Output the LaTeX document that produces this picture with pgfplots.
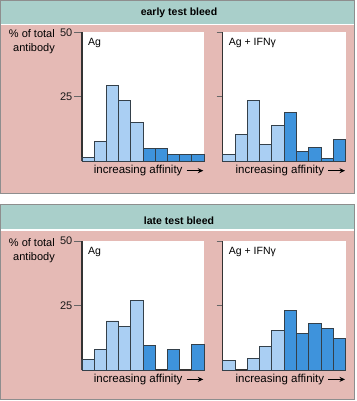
\documentclass[border=0pt]{standalone}
\usepackage{pgfplots}
\pgfplotsset{compat=1.18}
\usepackage{fontspec}
\setmainfont{Liberation Sans}
\usetikzlibrary{arrows.meta}
\definecolor{pinkbg}{HTML}{E5BAB5}
\definecolor{tealbg}{HTML}{A9CFCA}
\definecolor{lightbar}{HTML}{AACFF3}
\definecolor{darkbar}{HTML}{3E93DC}
\definecolor{edge}{HTML}{34404A}
\definecolor{framec}{HTML}{8E8E8E}

\pgfplotsset{
  panel/.style={
    scale only axis, width=122pt, height=129pt, anchor=south west,
    xmin=0, xmax=10, ymin=0, ymax=50, enlargelimits=false,
    axis x line*=bottom, axis y line*=left,
    axis line style={draw=black!80, line width=1.1pt},
    xtick=\empty, ytick={25,50},
    tick align=outside, major tick length=8pt,
    ytick style={draw=black!60, line width=0.7pt},
    axis background/.style={fill=white},
    clip=false,
    /pgf/number format/assume math mode=true,
    yticklabel style={font=\fontsize{11}{13}\selectfont, text=black!90, inner sep=1.5pt},
  },
  lb/.style={ybar, bar width=1, bar shift=0pt, fill=lightbar, draw=edge, line width=0.9pt},
  db/.style={ybar, bar width=1, bar shift=0pt, fill=darkbar, draw=edge, line width=0.9pt},
}
\newcommand{\xlab}{%
  \node[inner sep=0pt, anchor=base east, font=\fontsize{11.5}{13}\selectfont, xshift=-21.3pt, yshift=-12.7pt] at (rel axis cs:1,0) {increasing affinity};
  \draw[line width=0.9pt, -{Stealth[length=5.5pt,width=5pt]}] ([xshift=-17.3pt,yshift=-9.4pt]rel axis cs:1,0) -- ([xshift=-0.7pt,yshift=-9.4pt]rel axis cs:1,0);
}
\newcommand{\ylab}{%
  \node[inner sep=0pt, anchor=base east, font=\fontsize{11}{13}\selectfont, xshift=-27pt, yshift=-5.2pt] at (rel axis cs:0,1) {\% of total};
  \node[inner sep=0pt, anchor=base east, font=\fontsize{11}{13}\selectfont, xshift=-27pt, yshift=-19pt] at (rel axis cs:0,1) {antibody};
}
\newcommand{\plab}[1]{%
  \node[inner sep=0pt, anchor=base west, font=\fontsize{10.5}{12}\selectfont, xshift=6pt, yshift=-13.7pt] at (rel axis cs:0,1) {#1};
}

\begin{document}
\begin{tikzpicture}
\path[use as bounding box] (0,0) rectangle (356pt,401pt);
% top panel
\fill[pinkbg] (0.5pt,375.5pt) rectangle (354.5pt,207.5pt);
\fill[tealbg] (0.5pt,400.5pt) rectangle (354.5pt,377pt);
\draw[framec, line width=1pt] (0.5pt,400.5pt) rectangle (354.5pt,207.5pt);
\node[font=\bfseries\fontsize{10.5}{12}\selectfont, anchor=base] at (179pt,385.5pt) {early test bleed};
% bottom panel
\fill[pinkbg] (0.5pt,170pt) rectangle (354.5pt,1.5pt);
\fill[tealbg] (0.5pt,196.5pt) rectangle (354.5pt,171.5pt);
\draw[framec, line width=1pt] (0.5pt,196.5pt) rectangle (354.5pt,1.5pt);
\node[font=\bfseries\fontsize{10.5}{12}\selectfont, anchor=base] at (179pt,176pt) {late test bleed};

% early, Ag
\begin{axis}[panel, at={(82pt,239.7pt)}]
\addplot[lb] coordinates {(0.5,1.6)(1.5,7.6)(2.5,29.3)(3.5,23.4)(4.5,15.1)};
\addplot[db] coordinates {(5.5,4.8)(6.5,4.8)(7.5,2.8)(8.5,2.8)(9.5,2.8)};
\xlab \ylab \plab{Ag}
\end{axis}
% early, Ag + IFN
\begin{axis}[panel, at={(222.7pt,239.7pt)}, width=123pt, yticklabels={}, major tick length=6pt]
\addplot[lb] coordinates {(0.5,2.8)(1.5,10.3)(2.5,23.4)(3.5,6.6)(4.5,14.0)};
\addplot[db] coordinates {(5.5,18.9)(6.5,3.9)(7.5,5.2)(8.5,1.2)(9.5,8.5)};
\xlab \plab{Ag + IFNγ}
\end{axis}
% late, Ag
\begin{axis}[panel, at={(82pt,31pt)}]
\addplot[lb] coordinates {(0.5,4.1)(1.5,7.9)(2.5,19.0)(3.5,16.7)(4.5,26.9)};
\addplot[db] coordinates {(5.5,9.4)(7.5,7.9)(9.5,9.8)};
\xlab \ylab \plab{Ag}
\end{axis}
% late, Ag + IFN
\begin{axis}[panel, at={(222.7pt,31pt)}, width=123pt, yticklabels={}, major tick length=6pt]
\addplot[lb] coordinates {(0.5,3.7)(2.5,4.3)(3.5,9.2)(4.5,15.2)};
\addplot[db] coordinates {(5.5,23.0)(6.5,14.1)(7.5,18.1)(8.5,16.1)(9.5,12.4)};
\xlab \plab{Ag + IFNγ}
\end{axis}
\end{tikzpicture}
\end{document}
